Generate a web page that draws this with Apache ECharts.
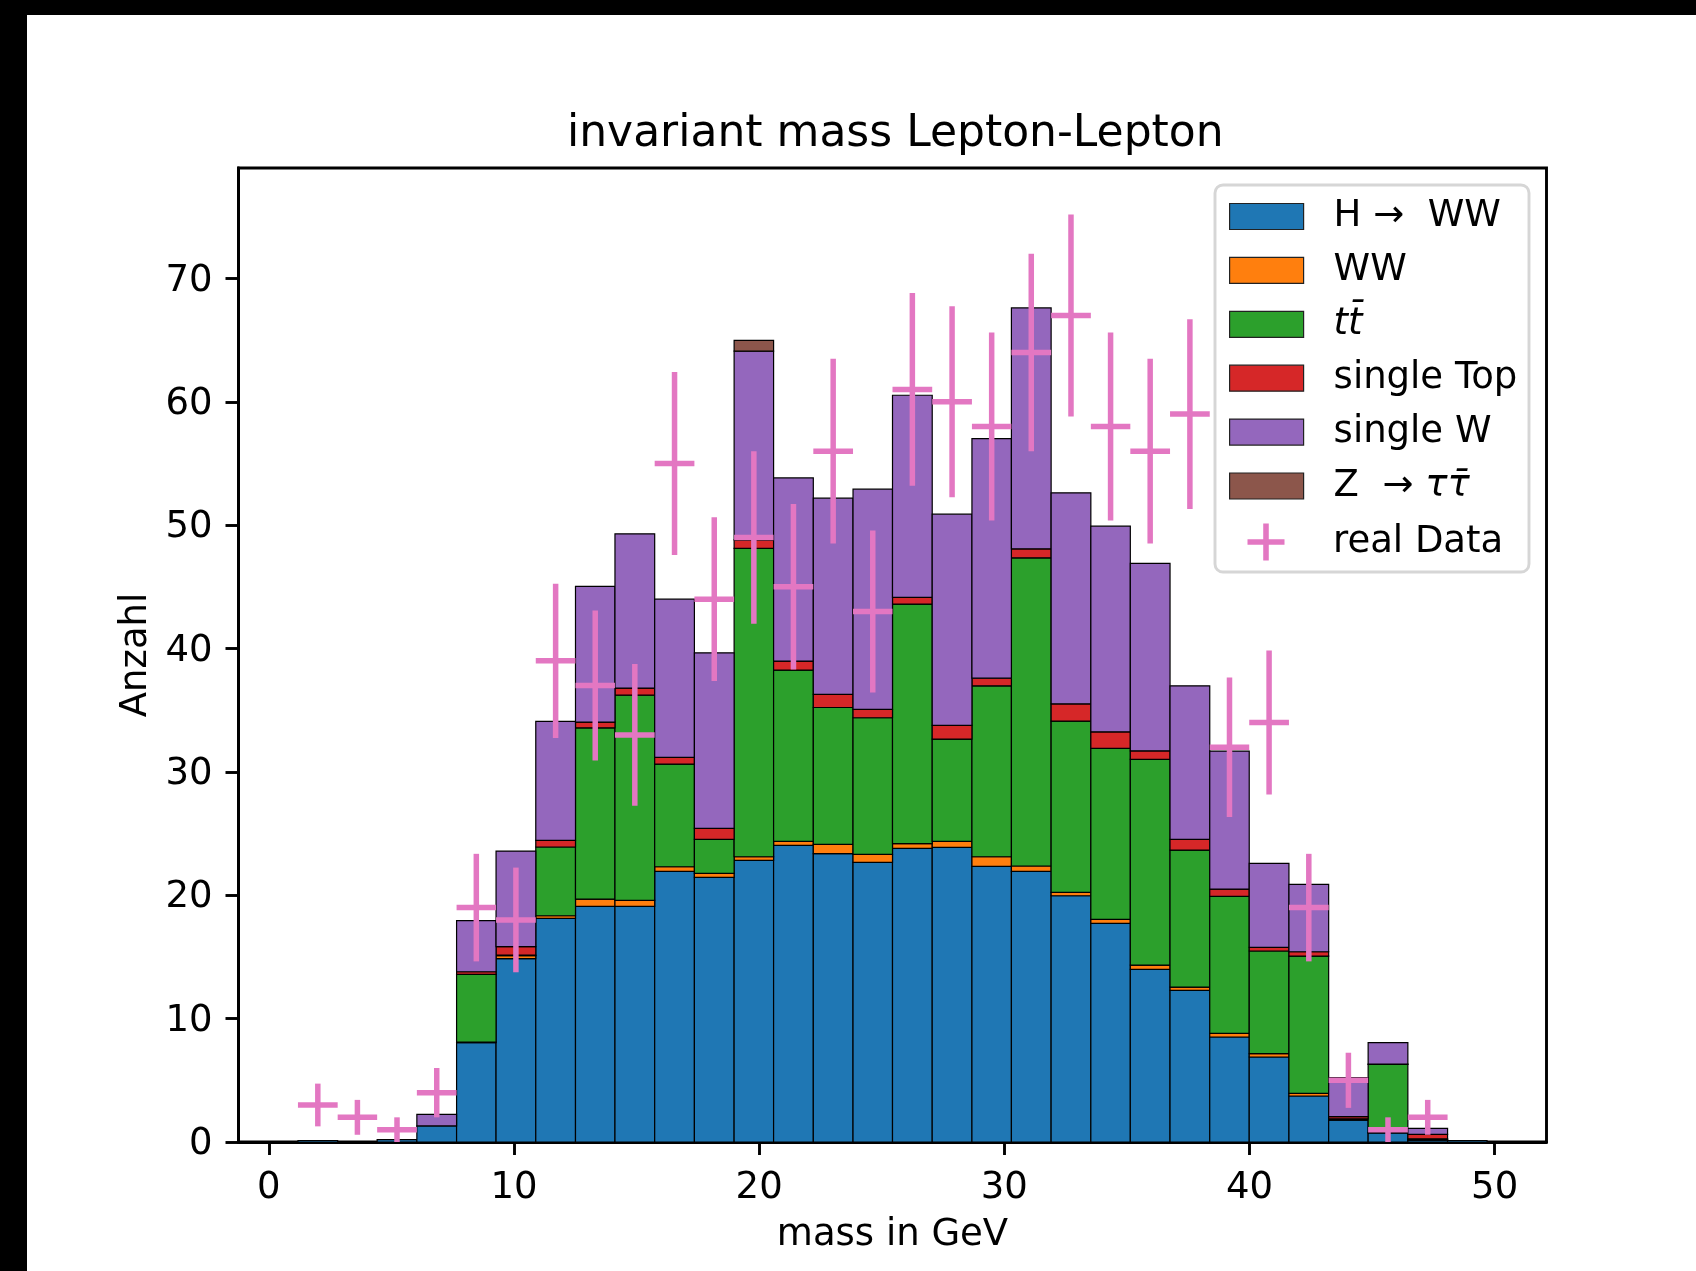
<!DOCTYPE html>
<html>
<head>
<meta charset="utf-8">
<script src="https://cdn.jsdelivr.net/npm/echarts@6/dist/echarts.min.js"></script>
<style>
html,body{margin:0;padding:0;background:#fff;}
#chart{width:1696px;height:1271px;}
</style>
</head>
<body>
<div id="chart"></div>
<script>
// ---- data ----
const binEdges = [1.19,2.81,4.42,6.04,7.66,9.27,10.89,12.51,14.12,15.74,17.36,18.98,20.59,22.21,23.83,25.44,27.06,28.68,30.29,31.91,33.53,35.14,36.76,38.38,39.99,41.61,43.23,44.84,46.46,48.08,49.69];
const hToWW    = [0.12,0,0.2,1.3,8.05,14.86,18.12,19.10,19.10,21.93,21.45,22.83,24.04,23.37,22.66,23.80,23.88,22.34,21.93,19.96,17.72,14.00,12.29,8.51,6.89,3.73,1.78,0.73,0.16,0.12];
const wwBg     = [0,0,0,0,0.05,0.24,0.22,0.59,0.48,0.38,0.32,0.29,0.33,0.75,0.65,0.38,0.49,0.78,0.44,0.27,0.33,0.34,0.27,0.30,0.27,0.21,0.05,0.03,0.05,0];
const ttbar    = [0,0,0,0,5.49,0.05,5.57,13.88,16.64,8.32,2.76,24.99,13.88,11.10,11.08,19.42,8.29,13.86,24.98,13.89,13.85,16.67,11.10,11.10,8.32,11.13,0.05,5.53,0.05,0];
const singleTop= [0,0,0,0,0.21,0.68,0.54,0.47,0.57,0.54,0.89,0.70,0.73,1.06,0.67,0.54,1.11,0.62,0.73,1.40,1.35,0.70,0.87,0.59,0.30,0.35,0.17,0.03,0.35,0];
const singleW  = [0,0,0,0.94,4.14,7.75,9.64,11.00,12.51,12.83,14.23,15.29,14.85,15.91,17.86,16.39,17.12,19.42,19.53,17.10,16.67,15.19,12.45,11.19,6.80,5.46,3.16,1.73,0.50,0];
const zTauTau  = [0,0,0,0,0,0,0,0,0,0,0,0.87,0,0,0,0,0,0,0,0,0,0,0,0,0,0,0,0,0,0];
const realData = [3,2,1,4,19,18,39,37,33,55,44,49,45,56,43,61,60,58,64,67,58,56,59,32,34,19,5,1,2,null];

const xTicks = [0,10,20,30,40,50];
const yTicks = [0,10,20,30,40,50,60,70];

const seriesNames = ['H \u2192  WW','WW','tt\u0304','single Top','single W','Z  \u2192 \u03c4\u03c4\u0304'];
const seriesColors = ['#1f77b4','#ff7f0e','#2ca02c','#d62728','#9467bd','#8c564b'];
const layers = [hToWW, wwBg, ttbar, singleTop, singleW, zTauTau];
const dataName = 'real Data';
const dataColor = '#e377c2';

// ---- build stacked rectangles ----
const cum = binEdges.slice(0, -1).map(() => 0);
const barSeries = layers.map((vals, li) => {
  const items = vals.map((v, i) => {
    const b = cum[i];
    cum[i] = b + v;
    return [binEdges[i], binEdges[i + 1], b, b + v];
  });
  return {
    type: 'custom',
    name: seriesNames[li],
    itemStyle: { color: seriesColors[li], borderColor: '#000', borderWidth: 1.2 },
    encode: { x: [0, 1], y: [2, 3] },
    z: 2,
    clip: true,
    data: items,
    renderItem: function (params, api) {
      const lo = api.value(0), hi = api.value(1), b = api.value(2), t = api.value(3);
      if (!(t - b > 0)) return { type: 'group', children: [] };
      const p0 = api.coord([lo, b]);
      const p1 = api.coord([hi, t]);
      return {
        type: 'rect',
        shape: { x: p0[0], y: p1[1], width: p1[0] - p0[0], height: p0[1] - p1[1] },
        style: { fill: seriesColors[li], stroke: '#000', lineWidth: 1.2 }
      };
    }
  };
});

const errItems = [];
realData.forEach((v, i) => {
  if (v === null) return;
  errItems.push([binEdges[i], binEdges[i + 1], v, Math.sqrt(v)]);
});

const dataSeries = {
  type: 'custom',
  name: dataName,
  itemStyle: { color: dataColor },
  encode: { x: [0, 1], y: 2 },
  z: 4,
  clip: true,
  data: errItems,
  renderItem: function (params, api) {
    const lo = api.value(0), hi = api.value(1), v = api.value(2), e = api.value(3);
    const c = (lo + hi) / 2;
    const pl = api.coord([lo, v]), pr = api.coord([hi, v]);
    const pt = api.coord([c, v + e]), pb = api.coord([c, v - e]);
    const st = { stroke: dataColor, lineWidth: 5.5, lineCap: 'butt' };
    return {
      type: 'group',
      children: [
        { type: 'line', shape: { x1: pt[0], y1: pt[1], x2: pb[0], y2: pb[1] }, style: st },
        { type: 'line', shape: { x1: pl[0], y1: pl[1], x2: pr[0], y2: pr[1] }, style: st }
      ]
    };
  }
};

const FONT = 'DejaVu Sans';
const chart = echarts.init(document.getElementById('chart'), null, { renderer: 'canvas' });
chart.setOption({
  animation: false,
  backgroundColor: '#fff',
  textStyle: { fontFamily: FONT },
  title: {
    text: 'invariant mass Lepton-Lepton',
    left: 567, top: 113, padding: 0,
    textStyle: { fontFamily: FONT, fontSize: 44, fontWeight: 'normal', color: '#000' }
  },
  grid: {
    left: 238.5, right: 149.5, top: 168, bottom: 129,
    show: true, borderColor: '#000', borderWidth: 2.9, backgroundColor: 'transparent'
  },
  xAxis: {
    type: 'value', min: -1.235, max: 52.115,
    name: 'mass in GeV', nameLocation: 'middle', nameGap: 75,
    nameTextStyle: { fontFamily: FONT, fontSize: 37, color: '#000' },
    splitLine: { show: false },
    axisLine: { show: true, onZero: false, lineStyle: { color: '#000', width: 2.9 } },
    axisTick: { show: true, inside: false, length: 13, lineStyle: { color: '#000', width: 2.9 }, customValues: xTicks },
    axisLabel: { fontFamily: FONT, fontSize: 37, color: '#000', margin: 28, customValues: xTicks, formatter: v => String(v) }
  },
  yAxis: {
    type: 'value', min: 0, max: 78.95,
    name: 'Anzahl', nameLocation: 'middle', nameGap: 84,
    nameTextStyle: { fontFamily: FONT, fontSize: 37, color: '#000' },
    splitLine: { show: false },
    axisLine: { show: true, onZero: false, lineStyle: { color: '#000', width: 2.9 } },
    axisTick: { show: true, inside: false, length: 13, lineStyle: { color: '#000', width: 2.9 }, customValues: yTicks },
    axisLabel: {
      fontFamily: FONT, fontSize: 37, color: '#000', margin: 26, customValues: yTicks,
      formatter: v => '{a|' + v + '}',
      rich: { a: { fontFamily: FONT, fontSize: 37, color: '#000', padding: [5, 0, 0, 0] } }
    }
  },
  legend: [
    {
      orient: 'vertical', left: 1229, top: 198, padding: 0,
      itemWidth: 74, itemHeight: 26, itemGap: 16.9,
      data: seriesNames.map(n => ({ name: n, icon: 'rect' })),
      itemStyle: { borderColor: '#222', borderWidth: 1.2 },
      selectedMode: false, z: 10,
      formatter: function (name) {
        if (name === seriesNames[2]) return '{it|' + name + '}';
        if (name === seriesNames[5]) return 'Z  \u2192 {it|\u03c4\u03c4\u0304}';
        return name;
      },
      textStyle: {
        fontFamily: FONT, fontSize: 37, color: '#000', lineHeight: 37, padding: [0, 0, 0, 25],
        rich: { it: { fontFamily: FONT, fontSize: 37, fontStyle: 'italic', color: '#000', lineHeight: 37 } }
      }
    },
    {
      orient: 'vertical', left: 1247.5, top: 523.5, padding: 0,
      itemWidth: 74, itemHeight: 37,
      data: [{ name: dataName, icon: 'path://M0,42.5 L100,42.5 L100,57.5 L0,57.5 Z M42.5,0 L57.5,0 L57.5,100 L42.5,100 Z' }],
      itemStyle: { color: dataColor, borderWidth: 0 },
      selectedMode: false, z: 10,
      textStyle: { fontFamily: FONT, fontSize: 37, color: '#000', lineHeight: 37, padding: [0, 0, 0, 25] }
    }
  ],
  graphic: [
    { type: 'rect', z: 100, shape: { x: 0, y: 0, width: 1696, height: 15 }, style: { fill: '#000' } },
    { type: 'rect', z: 100, shape: { x: 0, y: 0, width: 27, height: 1271 }, style: { fill: '#000' } },
    { type: 'rect', z: 5, shape: { x: 1215, y: 185, width: 314, height: 387, r: 8 },
      style: { fill: 'rgba(255,255,255,0.85)', stroke: '#d6d6d6', lineWidth: 2.9 } }
  ],
  series: barSeries.concat([dataSeries])
});
</script>
</body>
</html>
